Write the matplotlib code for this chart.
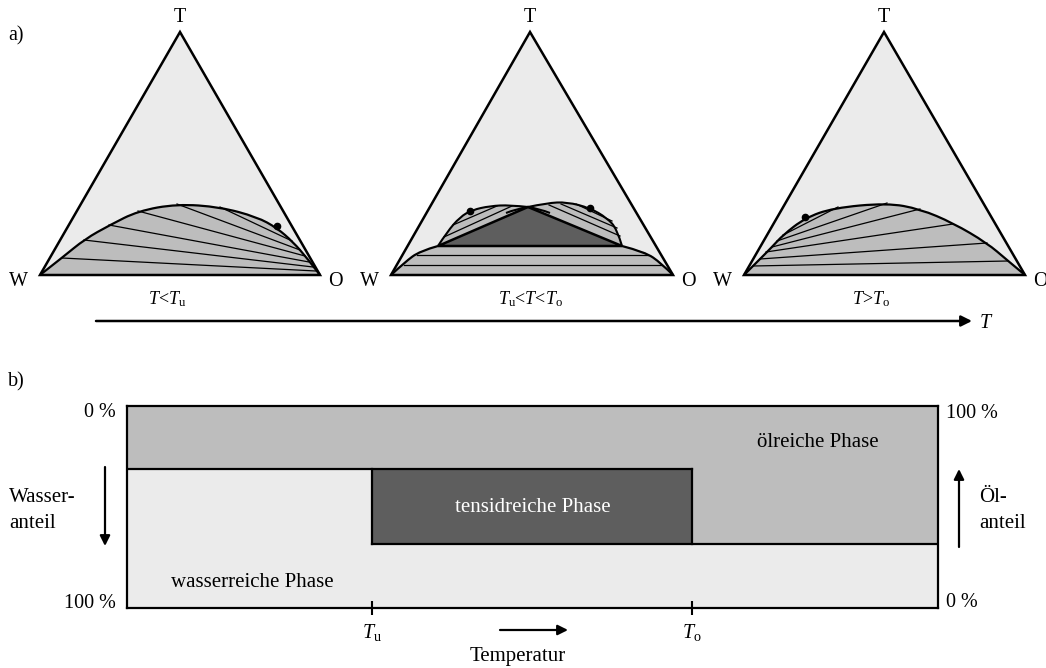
import numpy as np
import matplotlib
matplotlib.use("Agg")
import matplotlib.pyplot as plt
from matplotlib.path import Path
from matplotlib.patches import PathPatch, Polygon

plt.rcParams['font.family'] = ['Liberation Serif', 'DejaVu Serif']
plt.rcParams['mathtext.fontset'] = 'custom'
plt.rcParams['mathtext.rm'] = 'Liberation Serif'
plt.rcParams['mathtext.it'] = 'Liberation Serif:italic'

# farben
hell = '#ebebeb'
mittel = '#bdbdbd'
dunkel = '#5e5e5e'

# ---- a) drei Dreiecke (Pixelkoordinaten) ----
ecke_W = [(40, 275), (391, 275), (744, 275)]
ecke_O = [(320, 275), (673, 275), (1025, 275)]
ecke_T = [(180, 32), (530, 32), (884, 32)]
ueberschrift = [r'$T$<$T_{\mathrm{u}}$', r'$T_{\mathrm{u}}$<$T$<$T_{\mathrm{o}}$', r'$T$>$T_{\mathrm{o}}$']
ueberschrift_x = [167, 530, 871]

# T < Tu: Binodale und Konnoden
binodal1 = [(40, 275), (63, 257), (85, 239), (110, 225), (138, 211), (177, 204),
            (220, 207), (257, 217), (277, 228), (293, 242), (307, 258), (320, 275)]
konnode1_links = [(62, 258), (84, 240), (109, 225), (138, 211), (177, 204), (220, 207)]
konnode1_rechts = [(316, 271), (313, 267), (309, 262), (305, 256), (300, 250), (292, 241)]
krit1 = (277, 226)

# Tu < T < To
unten_links = [(391, 275), (405, 262), (420, 251), (438, 246)]
unten_rechts = [(622, 246), (645, 252), (661, 263), (673, 275)]
drei_phasen = [(438, 246), (528, 207), (622, 246)]
lobe_links = [(438, 246), (447, 232), (460, 217), (472, 210), (490, 206), (510, 205), (528, 207)]
lobe_rechts = [(528, 207), (547, 203), (567, 202), (590, 208), (607, 218), (617, 229), (622, 246)]
ext_links = [(528, 207), (540, 209), (550, 213)]
ext_rechts = [(528, 207), (516, 209), (506, 213)]
konnode2_y = [255, 265]
konnode2_x = [(417, 648), (404, 662)]
konnode2_lobe = [((444, 237), (512, 206)), ((453, 225), (497, 206)),
                 ((549, 205), (620, 236)), ((561, 204), (617, 228)), ((576, 204), (612, 221))]
krit2 = [(470, 211), (590, 208)]

# T > To
binodal3 = [(744, 275), (757, 262), (772, 247), (783, 235), (805, 218), (833, 208),
            (887, 203), (920, 209), (953, 223), (987, 243), (1007, 260), (1025, 275)]
konnode3_links = [(753, 266), (760, 259), (766, 252), (772, 247), (777, 241), (783, 235)]
konnode3_rechts = [(1008, 261), (987, 243), (953, 224), (920, 209), (887, 203), (838, 207)]
krit3 = (805, 217)

# ---- b) Phasenbereiche ----
T_u, T_o = 30.2, 69.7          # in % der Temperaturachse
grenze_oben, grenze_unten = 31.2, 68.3   # Wasseranteil in %
links_ticks = [2, 96.5]
links_labels = ['0 %', '100 %']
rechts_ticks = [97.5, 4]
rechts_labels = ['100 %', '0 %']


def glatt(pts, schliessen=None):
    p = np.asarray(pts, float)
    verts = [p[0]]
    codes = [Path.MOVETO]
    n = len(p)
    for i in range(1, n - 1):
        ende = p[i + 1] if i == n - 2 else (p[i] + p[i + 1]) / 2
        verts += [p[i], ende]
        codes += [Path.CURVE3, Path.CURVE3]
    if n == 2:
        verts.append(p[1])
        codes.append(Path.LINETO)
    if schliessen is not None:
        for q in schliessen:
            verts.append(q)
            codes.append(Path.LINETO)
        verts.append(p[0])
        codes.append(Path.CLOSEPOLY)
    return Path(verts, codes)


fig = plt.figure(figsize=(10.46, 6.68), dpi=100)
ax = fig.add_axes([0, 0, 1, 1])
ax.set_xlim(0, 1046)
ax.set_ylim(668, 0)
ax.axis('off')

for i in range(3):
    ax.add_patch(Polygon([ecke_W[i], ecke_T[i], ecke_O[i]], closed=True,
                         fc=hell, ec='none', zorder=1))

# Dreieck 1
ax.add_patch(PathPatch(glatt(binodal1, schliessen=[]), fc=mittel, ec='none', zorder=2))
for a, b in zip(konnode1_links, konnode1_rechts):
    ax.plot([a[0], b[0]], [a[1], b[1]], color='k', lw=0.9, zorder=3)
ax.add_patch(PathPatch(glatt(binodal1), fc='none', ec='k', lw=1.6, zorder=4))
ax.plot(*krit1, 'o', color='k', ms=4.5, zorder=5)

# Dreieck 2
ax.add_patch(PathPatch(glatt(unten_links, schliessen=unten_rechts), fc=mittel, ec='none', zorder=2))
ax.add_patch(PathPatch(glatt(unten_links), fc='none', ec='k', lw=1.6, zorder=4))
ax.add_patch(PathPatch(glatt(unten_rechts), fc='none', ec='k', lw=1.6, zorder=4))
for y, (x1, x2) in zip(konnode2_y, konnode2_x):
    ax.plot([x1, x2], [y, y], color='k', lw=0.9, zorder=3)
ax.add_patch(PathPatch(glatt(lobe_links, schliessen=[]), fc=mittel, ec='none', zorder=2))
ax.add_patch(PathPatch(glatt(lobe_rechts, schliessen=[]), fc=mittel, ec='none', zorder=2))
for a, b in konnode2_lobe:
    ax.plot([a[0], b[0]], [a[1], b[1]], color='k', lw=0.9, zorder=3)
ax.add_patch(Polygon(drei_phasen, closed=True, fc=dunkel, ec='k', lw=1.8, zorder=3.5,
                     joinstyle='miter'))
for kurve in [lobe_links, lobe_rechts, ext_links, ext_rechts]:
    ax.add_patch(PathPatch(glatt(kurve), fc='none', ec='k', lw=1.5, zorder=4))
for p in krit2:
    ax.plot(*p, 'o', color='k', ms=4.5, zorder=5)

# Dreieck 3
ax.add_patch(PathPatch(glatt(binodal3, schliessen=[]), fc=mittel, ec='none', zorder=2))
for a, b in zip(konnode3_links, konnode3_rechts):
    ax.plot([a[0], b[0]], [a[1], b[1]], color='k', lw=0.9, zorder=3)
ax.add_patch(PathPatch(glatt(binodal3), fc='none', ec='k', lw=1.6, zorder=4))
ax.plot(*krit3, 'o', color='k', ms=4.5, zorder=5)

for i in range(3):
    ax.add_patch(Polygon([ecke_W[i], ecke_T[i], ecke_O[i]], closed=True,
                         fc='none', ec='k', lw=1.8, zorder=6, joinstyle='miter'))
    ax.text(ecke_T[i][0], ecke_T[i][1] - 14, 'T', ha='center', va='center', fontsize=14.5)
    ax.text(ecke_W[i][0] - 22, ecke_W[i][1] + 7, 'W', ha='center', va='center', fontsize=14.5)
    ax.text(ecke_O[i][0] + 15, ecke_O[i][1] + 7, 'O', ha='center', va='center', fontsize=14.5)
    ax.text(ueberschrift_x[i], 299, ueberschrift[i], ha='center', va='center', fontsize=13)

ax.text(8, 36, 'a)', ha='left', va='center', fontsize=14.5)
ax.text(8, 382, 'b)', ha='left', va='center', fontsize=14.5)
ax.annotate('', xy=(972, 321), xytext=(96, 321),
            arrowprops=dict(arrowstyle='-|>', lw=1.8, color='k', mutation_scale=16,
                            shrinkA=0, shrinkB=0))
ax.text(986, 323, r'$T$', ha='center', va='center', fontsize=14.5)

# ---- b) ----
axb = fig.add_axes([127 / 1046, 1 - 608 / 668, (938 - 127) / 1046, (608 - 406) / 668])
axb.set_xlim(0, 100)
axb.set_ylim(100, 0)
axb.set_facecolor(hell)
axb.fill_between([0, 100], 0, grenze_oben, color=mittel, lw=0)
axb.fill_between([T_o, 100], grenze_oben, grenze_unten, color=mittel, lw=0)
axb.fill_between([T_u, T_o], grenze_oben, grenze_unten, color=dunkel, lw=0)
axb.plot([0, T_o], [grenze_oben] * 2, color='k', lw=1.6)
axb.plot([T_u, 100], [grenze_unten] * 2, color='k', lw=1.6)
axb.plot([T_u, T_u], [grenze_oben, grenze_unten], color='k', lw=1.6)
axb.plot([T_o, T_o], [grenze_oben, grenze_unten], color='k', lw=1.6)
for s in axb.spines.values():
    s.set_linewidth(1.6)
axb.set_xticks([T_u, T_o])
axb.set_xticklabels([r'$T_{\mathrm{u}}$', r'$T_{\mathrm{o}}$'], fontsize=14.5)
axb.tick_params(axis='x', direction='inout', length=10, width=1.5, pad=5)
axb.set_yticks(links_ticks)
axb.set_yticklabels(links_labels, fontsize=14.5)
axb.tick_params(axis='y', length=0, pad=8)
axr = axb.twinx()
axr.set_ylim(0, 100)
axr.set_yticks(rechts_ticks)
axr.set_yticklabels(rechts_labels, fontsize=14.5)
axr.tick_params(axis='y', length=0, pad=6)
for s in axr.spines.values():
    s.set_visible(False)

axb.text(85.2, 18, 'ölreiche Phase', ha='center', va='center', fontsize=15)
axb.text(50, 50, 'tensidreiche Phase', ha='center', va='center', fontsize=15, color='white')
axb.text(15.5, 87.5, 'wasserreiche Phase', ha='center', va='center', fontsize=15)

ax.text(9, 497, 'Wasser-', ha='left', va='center', fontsize=15)
ax.text(9, 523, 'anteil', ha='left', va='center', fontsize=15)
ax.text(979, 497, 'Öl-', ha='left', va='center', fontsize=15)
ax.text(979, 523, 'anteil', ha='left', va='center', fontsize=15)
pfeil = dict(arrowstyle='-|>', lw=1.6, color='k', mutation_scale=15, shrinkA=0, shrinkB=0)
ax.annotate('', xy=(105, 546), xytext=(105, 467), arrowprops=pfeil)
ax.annotate('', xy=(959, 469), xytext=(959, 547), arrowprops=pfeil)
ax.annotate('', xy=(568, 630), xytext=(500, 630), arrowprops=pfeil)
ax.text(518, 656, 'Temperatur', ha='center', va='center', fontsize=15)

fig.savefig('out.png', dpi=100)
